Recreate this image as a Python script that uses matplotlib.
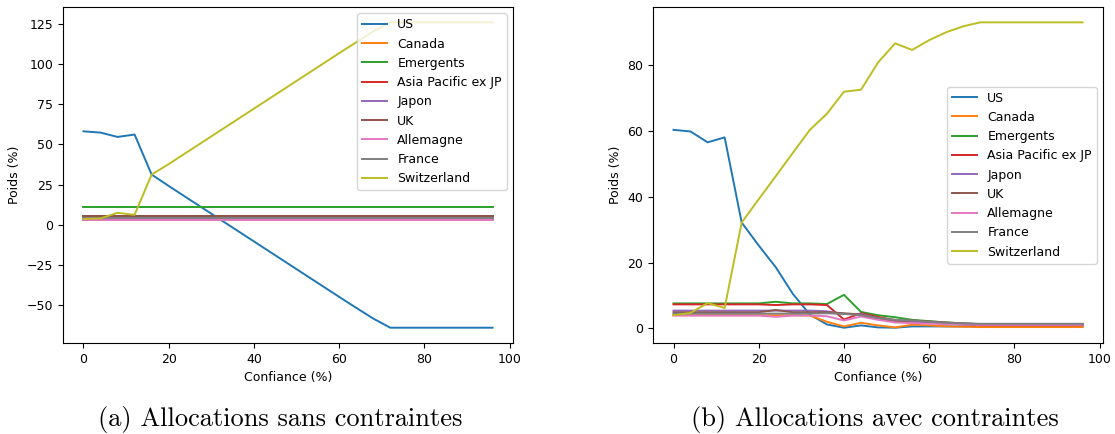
import matplotlib
matplotlib.use("Agg")
from matplotlib import pyplot as plt

plt.rcParams["font.size"] = 9
plt.rcParams["lines.linewidth"] = 1.4

# niveaux de confiance (%)
confiance = [0, 4, 8, 12, 16, 20, 24, 28, 32, 36, 40, 44, 48,
             52, 56, 60, 64, 68, 72, 76, 80, 84, 88, 92, 96]

pays = ["US", "Canada", "Emergents", "Asia Pacific ex JP", "Japon",
        "UK", "Allemagne", "France", "Switzerland"]

# (a) allocations sans contraintes
us_a = [58.2, 57.4, 54.7, 56.2, 31.3, 24.2, 17.3, 10.4, 3.5, -3.4, -10.3, -17.2, -24.1,
        -31.0, -37.9, -44.8, -51.6, -58.3, -64.0, -64.0, -64.0, -64.0, -64.0, -64.0, -64.0]
canada_a = [3.2] * 25
emergents_a = [10.9] * 25
apxjp_a = [5.6] * 25
japon_a = [4.2] * 25
uk_a = [5.8] * 25
allemagne_a = [3.0] * 25
france_a = [4.3] * 25
suisse_a = [3.7, 4.0, 7.5, 6.2, 31.3, 37.8, 44.7, 51.6, 58.5, 65.4, 72.3, 79.2, 86.1,
            93.0, 99.9, 106.8, 113.6, 120.3, 126.0, 126.0, 126.0, 126.0, 126.0, 126.0, 126.0]

# (b) allocations avec contraintes
us_b = [60.4, 59.9, 56.6, 58.1, 32.2, 25.2, 18.6, 10.5, 4.2, 1.2, 0.2, 0.9, 0.3,
        0.2, 0.6, 0.6, 0.6, 0.6, 0.6, 0.6, 0.6, 0.6, 0.6, 0.6, 0.6]
canada_b = [4.0, 4.0, 4.0, 4.0, 4.0, 4.0, 4.0, 4.0, 3.9, 2.0, 0.6, 1.7, 0.9,
            0.3, 1.1, 0.9, 0.6, 0.5, 0.4, 0.4, 0.4, 0.4, 0.4, 0.4, 0.4]
emergents_b = [7.6, 7.6, 7.6, 7.6, 7.6, 7.6, 8.1, 7.6, 7.6, 7.4, 10.2, 5.0, 4.0,
               3.4, 2.6, 2.2, 1.8, 1.5, 1.3, 1.3, 1.3, 1.3, 1.3, 1.3, 1.3]
apxjp_b = [7.3, 7.3, 7.3, 7.3, 7.3, 7.3, 7.1, 7.3, 7.3, 7.1, 2.7, 4.6, 3.5,
           2.5, 2.2, 1.9, 1.5, 1.2, 1.0, 1.0, 1.0, 1.0, 1.0, 1.0, 1.0]
japon_b = [5.4, 5.4, 5.4, 5.4, 5.4, 5.4, 5.4, 5.4, 5.4, 5.2, 4.4, 4.4, 3.0,
           2.0, 2.0, 1.7, 1.5, 1.3, 1.2, 1.2, 1.2, 1.2, 1.2, 1.2, 1.2]
uk_b = [4.9, 4.9, 4.9, 4.9, 4.9, 4.9, 5.6, 4.9, 4.9, 4.9, 4.6, 4.2, 3.0,
        2.0, 2.4, 2.1, 1.8, 1.5, 1.3, 1.3, 1.3, 1.3, 1.3, 1.3, 1.3]
allemagne_b = [3.9, 3.9, 3.9, 3.9, 3.9, 3.9, 3.5, 3.9, 3.9, 3.7, 2.4, 3.6, 2.6,
               1.8, 1.6, 1.4, 1.3, 1.2, 1.1, 1.1, 1.1, 1.1, 1.1, 1.1, 1.1]
france_b = [4.5, 4.5, 4.5, 4.5, 4.5, 4.5, 4.5, 4.5, 4.5, 4.6, 4.4, 4.0, 3.2,
            2.6, 2.4, 2.0, 1.7, 1.5, 1.4, 1.4, 1.4, 1.4, 1.4, 1.4, 1.4]
suisse_b = [4.0, 4.7, 7.7, 6.2, 32.2, 39.3, 46.3, 53.4, 60.4, 65.3, 72.0, 72.6, 80.9,
            86.7, 84.7, 87.7, 90.1, 91.9, 93.1, 93.1, 93.1, 93.1, 93.1, 93.1, 93.1]

poids_a = [us_a, canada_a, emergents_a, apxjp_a, japon_a, uk_a, allemagne_a, france_a, suisse_a]
poids_b = [us_b, canada_b, emergents_b, apxjp_b, japon_b, uk_b, allemagne_b, france_b, suisse_b]


def trace(ax, poids, loc):
    for nom, w in zip(pays, poids):
        ax.plot(confiance, w, label=nom)
    ax.set_xlabel("Confiance (%)")
    ax.set_ylabel("Poids (%)")
    ax.set_xticks([0, 20, 40, 60, 80, 100])
    ax.legend(loc=loc)


fig = plt.figure(figsize=(11.15, 4.34), dpi=100)
ax1 = fig.add_axes([0.0565, 0.2097, 0.4036, 0.774])
ax2 = fig.add_axes([0.5857, 0.2097, 0.4036, 0.774])

trace(ax1, poids_a, "upper right")
trace(ax2, poids_b, "center right")

fig.text(0.251, 0.0184, "(a) Allocations sans contraintes", family="cmr10",
         fontsize=19, ha="center", va="baseline")
fig.text(0.785, 0.0184, "(b) Allocations avec contraintes", family="cmr10",
         fontsize=19, ha="center", va="baseline")

plt.savefig("out.png", dpi=100)
